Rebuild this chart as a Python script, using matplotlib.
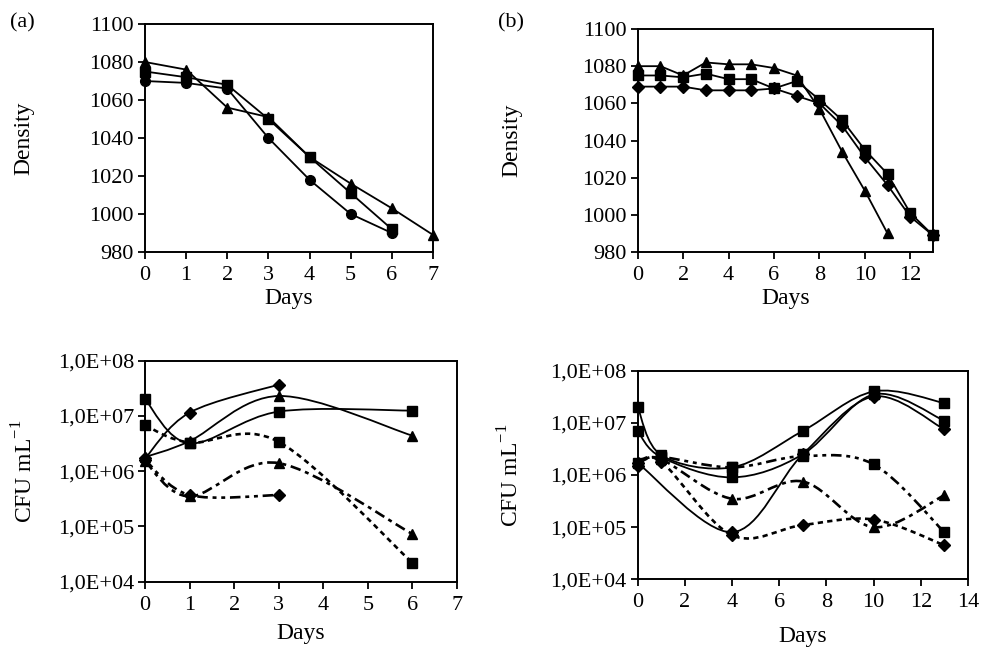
import numpy as np
import matplotlib
matplotlib.use("Agg")
import matplotlib.pyplot as plt
from matplotlib.path import Path
from matplotlib.patches import PathPatch
from matplotlib.ticker import FixedLocator, FuncFormatter, NullLocator

plt.rcParams['font.family'] = ['Liberation Serif', 'DejaVu Serif']
plt.rcParams['mathtext.fontset'] = 'custom'
plt.rcParams['mathtext.rm'] = 'Liberation Serif'

# ---------------- data ----------------
# (a) density
days_a = [0, 1, 2, 3, 4, 5, 6, 7]
dens_a_circle = [1070, 1069, 1066, 1040, 1018, 1000, 990]
dens_a_square = [1075, 1072, 1068, 1050, 1030, 1011, 992]
dens_a_tri = [1080, 1076, 1056, 1051, 1030, 1016, 1003, 989]

# (b) density
days_b = list(range(14))
dens_b_tri = [1080, 1080, 1075, 1082, 1081, 1081, 1079, 1075, 1057, 1034, 1013, 990]
dens_b_square = [1075, 1075, 1074, 1076, 1073, 1073, 1068, 1072, 1062, 1051, 1035, 1022, 1001, 989]
dens_b_diamond = [1069, 1069, 1069, 1067, 1067, 1067, 1068, 1064, 1060, 1048, 1031, 1016, 999, 989]

# (a) CFU
cfu_days_a = [0, 1, 3, 6]
cfu_a_solid_diamond = [1.7e6, 1.15e7, 3.7e7]
cfu_a_solid_tri = [1.8e6, 3.5e6, 2.3e7, 4.4e6]
cfu_a_solid_square = [2.0e7, 3.2e6, 1.2e7, 1.25e7]
cfu_a_dash_square = [6.8e6, 3.3e6, 3.4e6, 2.2e4]
cfu_a_dash_tri = [1.5e6, 3.5e5, 1.4e6, 7.3e4]
cfu_a_dash_diamond = [1.6e6, 3.7e5, 3.7e5]

# (b) CFU
cfu_days_b = [0, 1, 4, 7, 10, 13]
cfu_days_b_dip = [0, 4, 7, 10, 13]
cfu_b_solid_sq1 = [2.0e7, 2.4e6, 1.4e6, 7.0e6, 4.0e7, 2.4e7]
cfu_b_solid_sq2 = [7.0e6, 2.2e6, 9.0e5, 2.5e6, 3.5e7, 1.1e7]
cfu_b_solid_dip = [1.7e6, 8.0e4, 2.5e6, 3.2e7, 7.5e6]
cfu_b_dash_sq = [1.7e6, 2.2e6, 1.4e6, 2.3e6, 1.6e6, 8.0e4]
cfu_b_dash_tri = [1.8e6, 2.0e6, 3.5e5, 7.5e5, 1.0e5, 4.1e5]
cfu_b_dash_diamond = [1.5e6, 1.8e6, 7.0e4, 1.1e5, 1.4e5, 4.5e4]

# ---------------- helpers ----------------
TFS = 16   # tick labels
LFS = 17   # axis labels

def style_axes(ax):
    for s in ax.spines.values():
        s.set_linewidth(1.4)
    ax.tick_params(direction='out', length=5, width=1.3, labelsize=TFS,
                   top=False, right=False)
    ax.tick_params(axis='x', pad=5)
    ax.tick_params(axis='y', pad=3)

def smooth_line(ax, x, y, ls, lw=1.3):
    x = np.asarray(x, float)
    ly = np.log10(np.asarray(y, float))
    P = np.column_stack([x, ly])
    n = len(P)
    verts = [P[0]]
    codes = [Path.MOVETO]
    for i in range(n - 1):
        p0 = P[i - 1] if i > 0 else P[i]
        p1 = P[i]
        p2 = P[i + 1]
        p3 = P[i + 2] if i + 2 < n else P[i + 1]
        c1 = p1 + (p2 - p0) / 6.0
        c2 = p2 - (p3 - p1) / 6.0
        verts += [c1, c2, p2]
        codes += [Path.CURVE4] * 3
    V = np.array(verts)
    V[:, 1] = 10 ** V[:, 1]
    patch = PathPatch(Path(V, codes), facecolor='none', edgecolor='black',
                      lw=lw, linestyle=ls, transform=ax.transData)
    ax.add_patch(patch)

def sci_fmt(v, pos):
    e = int(round(np.log10(v)))
    return "1,0E+%02d" % e

fig = plt.figure(figsize=(9.83, 6.49), dpi=100)

# ---- (a) top ----
ax1 = fig.add_axes([0.1475, 0.6117, 0.2930, 0.3513])
ax1.plot(days_a[:7], dens_a_circle, '-', color='k', lw=1.3, marker='o', ms=7)
ax1.plot(days_a[:7], dens_a_square, '-', color='k', lw=1.3, marker='s', ms=7.5)
ax1.plot(days_a, dens_a_tri, '-', color='k', lw=1.3, marker='^', ms=7.5)
ax1.set_xlim(0, 7)
ax1.set_ylim(980, 1100)
ax1.set_xticks(range(0, 8))
ax1.set_yticks(range(980, 1101, 20))
ax1.set_xlabel('Days', fontsize=LFS, labelpad=2)
ax1.set_ylabel('Density', fontsize=LFS)
ax1.yaxis.set_label_coords(-0.385, 0.5)
style_axes(ax1)
for l in ax1.get_lines():
    l.set_clip_on(False)

# ---- (b) top ----
ax2 = fig.add_axes([0.6487, 0.6117, 0.3004, 0.3436])
ax2.plot(days_b[:12], dens_b_tri, '-', color='k', lw=1.3, marker='^', ms=7.5)
ax2.plot(days_b, dens_b_square, '-', color='k', lw=1.3, marker='s', ms=7.5)
ax2.plot(days_b, dens_b_diamond, '-', color='k', lw=1.3, marker='D', ms=6)
ax2.set_xlim(0, 13)
ax2.set_ylim(980, 1100)
ax2.set_xticks(range(0, 13, 2))
ax2.set_yticks(range(980, 1101, 20))
ax2.set_xlabel('Days', fontsize=LFS, labelpad=2)
ax2.set_ylabel('Density', fontsize=LFS)
ax2.yaxis.set_label_coords(-0.392, 0.5)
style_axes(ax2)
for l in ax2.get_lines():
    l.set_clip_on(False)

dotted = (0, (2.0, 1.6))
dashdot = (0, (4.0, 1.8, 1.5, 1.8))
dashdotdot = (0, (4.0, 1.8, 1.5, 1.8, 1.5, 1.8))

# ---- (a) bottom ----
ax3 = fig.add_axes([0.1475, 0.1037, 0.3174, 0.3405])
ax3.set_yscale('log')
series3 = [
    (cfu_days_a, cfu_a_solid_diamond, 'D', '-', 1.3),
    (cfu_days_a, cfu_a_solid_tri, '^', '-', 1.3),
    (cfu_days_a, cfu_a_solid_square, 's', '-', 1.3),
    (cfu_days_a, cfu_a_dash_square, 's', dotted, 1.9),
    (cfu_days_a, cfu_a_dash_tri, '^', dashdot, 1.9),
    (cfu_days_a, cfu_a_dash_diamond, 'D', dashdotdot, 1.9),
]
for days, vals, mk, ls, lw in series3:
    d = days[:len(vals)]
    smooth_line(ax3, d, vals, ls, lw)
    ax3.plot(d, vals, linestyle='none', marker=mk, color='k',
             ms=7 if mk != 'D' else 6, clip_on=False)
ax3.set_xlim(0, 7)
ax3.set_ylim(1e4, 1e8)
ax3.set_xticks(range(0, 8))
ax3.yaxis.set_major_locator(FixedLocator([1e4, 1e5, 1e6, 1e7, 1e8]))
ax3.yaxis.set_minor_locator(NullLocator())
ax3.yaxis.set_major_formatter(FuncFormatter(sci_fmt))
ax3.set_xlabel('Days', fontsize=LFS, labelpad=6)
ax3.set_ylabel('CFU mL$^{\\mathregular{-1}}$', fontsize=LFS)
ax3.yaxis.set_label_coords(-0.343, 0.5)
style_axes(ax3)

# ---- (b) bottom ----
ax4 = fig.add_axes([0.6487, 0.1074, 0.3360, 0.3214])
ax4.set_yscale('log')
series4 = [
    (cfu_days_b, cfu_b_solid_sq1, 's', '-', 1.3),
    (cfu_days_b, cfu_b_solid_sq2, 's', '-', 1.3),
    (cfu_days_b_dip, cfu_b_solid_dip, 'D', '-', 1.3),
    (cfu_days_b, cfu_b_dash_sq, 's', dashdotdot, 1.9),
    (cfu_days_b, cfu_b_dash_tri, '^', dashdot, 1.9),
    (cfu_days_b, cfu_b_dash_diamond, 'D', dotted, 1.9),
]
for days, vals, mk, ls, lw in series4:
    d = days[:len(vals)]
    smooth_line(ax4, d, vals, ls, lw)
    ax4.plot(d, vals, linestyle='none', marker=mk, color='k',
             ms=7 if mk != 'D' else 6, clip_on=False)
ax4.set_xlim(0, 14)
ax4.set_ylim(1e4, 1e8)
ax4.set_xticks(range(0, 15, 2))
ax4.yaxis.set_major_locator(FixedLocator([1e4, 1e5, 1e6, 1e7, 1e8]))
ax4.yaxis.set_minor_locator(NullLocator())
ax4.yaxis.set_major_formatter(FuncFormatter(sci_fmt))
ax4.set_xlabel('Days', fontsize=LFS, labelpad=10)
ax4.set_ylabel('CFU mL$^{\\mathregular{-1}}$', fontsize=LFS)
ax4.yaxis.set_label_coords(-0.347, 0.5)
style_axes(ax4)

fig.text(10 / 983, 1 - 23 / 649, '(a)', fontsize=TFS, va='center', ha='left')
fig.text(498 / 983, 1 - 23 / 649, '(b)', fontsize=TFS, va='center', ha='left')

fig.savefig('out.png', dpi=100)
